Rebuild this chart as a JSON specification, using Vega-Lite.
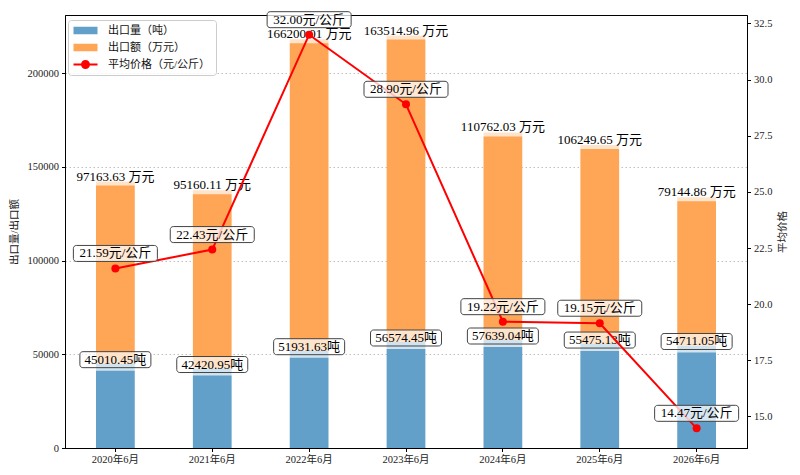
{
  "$schema": "https://vega.github.io/schema/vega-lite/v6.json",
  "width": 682,
  "height": 433,
  "autosize": {"type": "none"},
  "padding": {"left": 65, "top": 15, "right": 53, "bottom": 27},
  "config": {
    "font": "Liberation Serif, Noto Sans CJK SC",
    "view": {"stroke": "#000000", "strokeWidth": 1},
    "axis": {
      "labelFontSize": 10.5,
      "labelColor": "#222222",
      "tickColor": "#000000",
      "tickSize": 3.5,
      "labelPadding": 3,
      "domainColor": "#000000",
      "titleFontSize": 10.5,
      "titleFontWeight": "normal",
      "titleColor": "#222222",
      "grid": false
    }
  },
  "data": {
    "values": [
      {"period": "2020年6月", "volume": 45010.45, "amount": 97163.63, "price": 21.59},
      {"period": "2021年6月", "volume": 42420.95, "amount": 95160.11, "price": 22.43},
      {"period": "2022年6月", "volume": 51931.63, "amount": 166200.01, "price": 32.00},
      {"period": "2023年6月", "volume": 56574.45, "amount": 163514.96, "price": 28.90},
      {"period": "2024年6月", "volume": 57639.04, "amount": 110762.03, "price": 19.22},
      {"period": "2025年6月", "volume": 55475.13, "amount": 106249.65, "price": 19.15},
      {"period": "2026年6月", "volume": 54711.05, "amount": 79144.86, "price": 14.47}
    ]
  },
  "transform": [
    {"fold": ["volume", "amount"], "as": ["series", "value"]},
    {"stack": "value", "groupby": ["period"], "sort": [{"field": "series", "order": "descending"}], "as": ["y0", "y1"]}
  ],
  "encoding": {
    "x": {
      "field": "period",
      "type": "nominal",
      "sort": null,
      "title": null,
      "scale": {"paddingInner": 0.6, "paddingOuter": 0.32},
      "axis": {"labelAngle": 0, "title": null}
    }
  },
  "layer": [
    {
      "layer": [
        {
          "mark": {"type": "bar"},
          "encoding": {
            "y": {
              "field": "y1",
              "type": "quantitative",
              "title": "出口量/出口额",
              "scale": {"domain": [0, 231094], "nice": false},
              "axis": {
                "orient": "left",
                "values": [0, 50000, 100000, 150000, 200000],
                "format": "d",
                "grid": true,
                "gridDash": [1.5, 2.5],
                "gridColor": "#b0b0b0",
                "gridWidth": 0.8,
                "titlePadding": 8
              }
            },
            "y2": {"field": "y0"},
            "order": {"field": "series", "sort": "descending"},
            "color": {
              "field": "series",
              "type": "nominal",
              "scale": {"domain": ["volume", "amount", "price"], "range": ["#62a0ca", "#ffa556", "#ff0000"]},
              "legend": {
                "title": null,
                "orient": "none",
                "legendX": 3,
                "legendY": 5,
                "labelExpr": "datum.value == 'volume' ? '出口量（吨）' : datum.value == 'amount' ? '出口额（万元）' : '平均价格（元/公斤）'",
                "labelFontSize": 11,
                "labelColor": "#111111",
                "symbolSize": 100,
                "symbolStrokeWidth": 0,
                "symbolOffset": 7,
                "labelOffset": 17,
                "padding": 5,
                "rowPadding": 5,
                "strokeColor": "#cccccc",
                "fillColor": "rgba(255,255,255,0.8)",
                "cornerRadius": 3,
                "encode": {
                  "symbols": {
                    "update": {
                      "shape": {"signal": "datum.value == 'price' ? 'M-2.4,-0.2H2.4V0.2H-2.4Z M-0.9,0A0.9,0.9 0 0 1 0.9,0A0.9,0.9 0 0 1 -0.9,0Z' : 'M-2.4,-0.75H2.4V0.75H-2.4Z'"},
                      "fill": {"scale": "color", "field": "value"},
                      "stroke": {"value": "transparent"},
                      "opacity": {"value": 1}
                    }
                  }
                }
              }
            }
          }
        },
        {
          "transform": [{"filter": "datum.series == 'amount'"}],
          "mark": {"type": "point", "shape": "M-4.6,-0.85H4.6V0.85H-4.6Z", "size": 400, "filled": true, "fill": "#ffffff", "opacity": 0.7, "strokeWidth": 0, "yOffset": -4.5},
          "encoding": {"y": {"field": "y1", "type": "quantitative", "title": "出口量/出口额"}}
        },
        {
          "transform": [
            {"filter": "datum.series == 'amount'"},
            {"calculate": "format(datum.amount, '.2f') + ' 万元'", "as": "label"}
          ],
          "mark": {"type": "text", "fontSize": 13, "baseline": "alphabetic", "dy": -1, "color": "#000000"},
          "encoding": {
            "y": {"field": "y1", "type": "quantitative", "title": "出口量/出口额"},
            "text": {"field": "label"}
          }
        },
        {
          "transform": [{"filter": "datum.series == 'volume'"}],
          "mark": {"type": "point", "shape": "M-3.55,-0.8H3.55V1.1H-3.55Z", "size": 400, "filled": true, "fill": "#ffffff", "opacity": 0.7, "strokeWidth": 0, "yOffset": -4},
          "encoding": {"y": {"field": "y1", "type": "quantitative", "title": "出口量/出口额"}}
        },
        {
          "transform": [{"filter": "datum.series == 'volume'"}],
          "mark": {"type": "point", "shape": "M-3.25,-0.8H3.25A0.3,0.3 0 0 1 3.55,-0.5V0.5A0.3,0.3 0 0 1 3.25,0.8H-3.25A0.3,0.3 0 0 1 -3.55,0.5V-0.5A0.3,0.3 0 0 1 -3.25,-0.8Z", "size": 400, "filled": false, "fill": "transparent", "stroke": "#444444", "strokeWidth": 1, "opacity": 1, "yOffset": -4},
          "encoding": {"y": {"field": "y1", "type": "quantitative", "title": "出口量/出口额"}}
        },
        {
          "transform": [
            {"filter": "datum.series == 'volume'"},
            {"calculate": "format(datum.volume, '.2f') + '吨'", "as": "label"}
          ],
          "mark": {"type": "text", "fontSize": 13, "baseline": "middle", "yOffset": -4, "color": "#000000"},
          "encoding": {
            "y": {"field": "y1", "type": "quantitative", "title": "出口量/出口额"},
            "text": {"field": "label"}
          }
        }
      ]
    },
    {
      "transform": [{"filter": "datum.series == 'volume'"}],
      "layer": [
        {
          "mark": {"type": "line", "strokeWidth": 2},
          "encoding": {
            "y": {
              "field": "price",
              "type": "quantitative",
              "title": "平均价格",
              "scale": {"domain": [13.5935, 32.8765], "nice": false, "zero": false},
              "axis": {
                "orient": "right",
                "values": [15, 17.5, 20, 22.5, 25, 27.5, 30, 32.5],
                "format": ".1f",
                "titleAngle": 270,
                "titleBaseline": "top",
                "titlePadding": 6
              }
            },
            "color": {"datum": "price"}
          }
        },
        {
          "mark": {"type": "point", "filled": true, "size": 64, "opacity": 1},
          "encoding": {
            "y": {"field": "price", "type": "quantitative", "title": "平均价格"},
            "color": {"datum": "price"}
          }
        },
        {
          "mark": {"type": "point", "shape": "M-3.9,-0.8H3.9A0.3,0.3 0 0 1 4.2,-0.5V0.5A0.3,0.3 0 0 1 3.9,0.8H-3.9A0.3,0.3 0 0 1 -4.2,0.5V-0.5A0.3,0.3 0 0 1 -3.9,-0.8Z", "size": 400, "filled": true, "fill": "#ffffff", "fillOpacity": 0.75, "stroke": "#444444", "strokeWidth": 1, "opacity": 1, "yOffset": -15},
          "encoding": {"y": {"field": "price", "type": "quantitative", "title": "平均价格"}}
        },
        {
          "transform": [{"calculate": "format(datum.price, '.2f') + '元/公斤'", "as": "label"}],
          "mark": {"type": "text", "fontSize": 13, "baseline": "middle", "yOffset": -15, "color": "#000000"},
          "encoding": {
            "y": {"field": "price", "type": "quantitative", "title": "平均价格"},
            "text": {"field": "label"}
          }
        }
      ]
    }
  ],
  "resolve": {"scale": {"y": "independent"}, "axis": {"y": "independent"}}
}
